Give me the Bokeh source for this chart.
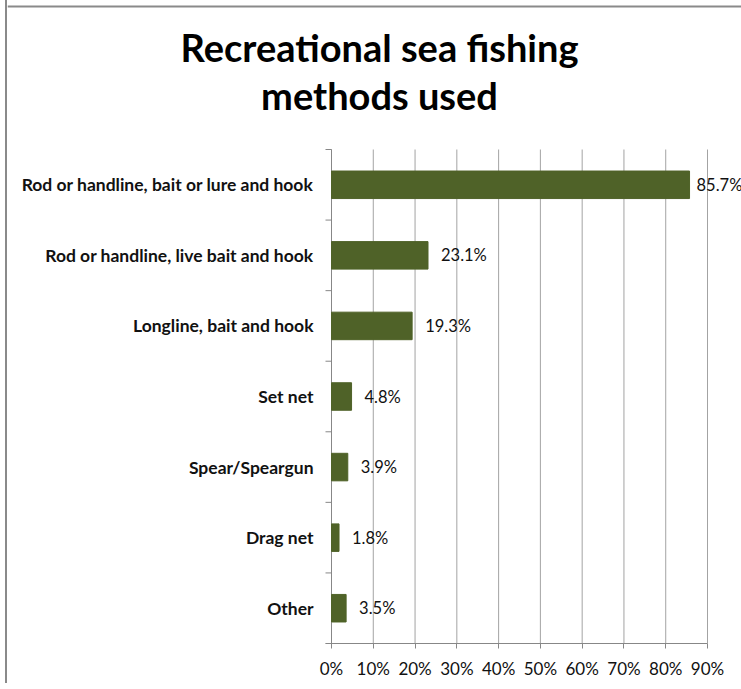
from bokeh.plotting import figure
from bokeh.models import ColumnDataSource, Label, Range1d, FixedTicker
from bokeh.embed import file_html
from bokeh.resources import INLINE
from bokeh.core.properties import value

categories = ["Rod or handline, bait or lure and hook",
              "Rod or handline, live bait and hook",
              "Longline, bait and hook",
              "Set net",
              "Spear/Speargun",
              "Drag net",
              "Other"]
values = [85.7, 23.1, 19.3, 4.8, 3.9, 1.8, 3.5]
x_ticks = [0, 10, 20, 30, 40, 50, 60, 70, 80, 90]
x_tick_labels = ["0%", "10%", "20%", "30%", "40%", "50%", "60%", "70%", "80%", "90%"]
title_lines = ["Recreational sea fishing", "methods used"]

n = len(categories)
y_pos = [n - 0.5 - i for i in range(n)]
labels = [f"{v:.1f}%" for v in values]
label_offsets = [7, 13, 13, 13, 13, 13, 13]   # px gap between bar end and its label
src = ColumnDataSource(dict(cat=categories, val=values, y=y_pos, lab=labels,
                            off=label_offsets))

FONT = "Lato"
GRID = "#a3a3a3"
AXIS = "#878787"
FRAME_COL = "#8a8a8a"
BAR = "#4f6228"
TXT = "#111111"

# layout (pixels); canvas starts at page x=7 (after a 2px left border), y=0
CANVAS_W, FRAME_H, BOTTOM = 734, 643, 40
PX_PER_PCT = 376 / 90.0          # 0% .. 90% spans 376 px
ZERO_X = 324                     # canvas x of 0%
BAND = 494 / n                   # px per category
TOP_GAP = 149                    # canvas y of top of category area
BORDER_Y = 6                     # canvas y of the chart-area top border

x_pad = 6 / PX_PER_PCT
x_start = -ZERO_X / PX_PER_PCT
x_end = x_start + CANVAS_W / PX_PER_PCT
y_end = n + TOP_GAP / BAND

p = figure(x_range=Range1d(x_start, x_end), y_range=Range1d(0, y_end),
           frame_width=CANVAS_W, frame_height=FRAME_H,
           min_border_left=0, min_border_right=0, min_border_top=0,
           min_border_bottom=BOTTOM, y_axis_location=None,
           output_backend="svg", toolbar_location=None)
p.title_location = None
p.outline_line_color = None
p.background_fill_color = "white"
p.border_fill_color = "white"
p.xgrid.grid_line_color = None
p.ygrid.grid_line_color = None

# top border of the chart area
y_border = y_end - BORDER_Y / BAND
p.segment(x0=[x_start], x1=[x_end], y0=[y_border], y1=[y_border],
          line_color=FRAME_COL, line_width=2)

# vertical gridlines over the category area (0% line doubles as the axis line)
p.segment(x0=x_ticks, x1=x_ticks, y0=[0] * len(x_ticks), y1=[n] * len(x_ticks),
          line_color=GRID, line_width=1)
p.segment(x0=[0], x1=[0], y0=[0], y1=[n], line_color=AXIS, line_width=1)

# boundary tick marks on the category axis
bounds = list(range(n + 1))
p.segment(x0=[-x_pad] * len(bounds), x1=[0] * len(bounds), y0=bounds, y1=bounds,
          line_color=AXIS, line_width=1)

# bars
p.hbar(y="y", right="val", left=0, height=0.39, source=src,
       fill_color=BAR, line_color=BAR)

# value labels
p.text(x="val", y="y", text="lab", source=src, x_offset="off",
       text_baseline="middle", text_align="left",
       text_font=value(FONT), text_font_size="16.5px", text_color=TXT)

# category labels
p.text(x=0, y="y", text="cat", source=src, x_offset=-18,
       text_baseline="middle", text_align="right",
       text_font=value(FONT), text_font_style="bold", text_font_size="17.5px",
       text_color=TXT)

# x axis
xa = p.xaxis[0]
xa.bounds = (-x_pad, 90)
xa.ticker = FixedTicker(ticks=x_ticks)
xa.major_label_overrides = {t: l for t, l in zip(x_ticks, x_tick_labels)}
xa.axis_line_color = AXIS
xa.major_tick_line_color = AXIS
xa.major_tick_out = 5
xa.major_tick_in = 0
xa.minor_tick_line_color = None
xa.major_label_standoff = 9
xa.major_label_text_font = FONT
xa.major_label_text_font_size = "17px"
xa.major_label_text_color = TXT

# title
for i, t in enumerate(title_lines):
    p.add_layout(Label(x=370, y=46 + 48 * i, x_units="canvas", y_units="canvas",
                       text=t, text_align="center", text_baseline="alphabetic",
                       text_font=FONT, text_font_style="bold", text_font_size="38px",
                       text_color="black"))

p.styles = {"border-left": "2px solid #8a8a8a", "margin-left": "5px"}

open("out.html", "w").write(file_html(p, INLINE))
